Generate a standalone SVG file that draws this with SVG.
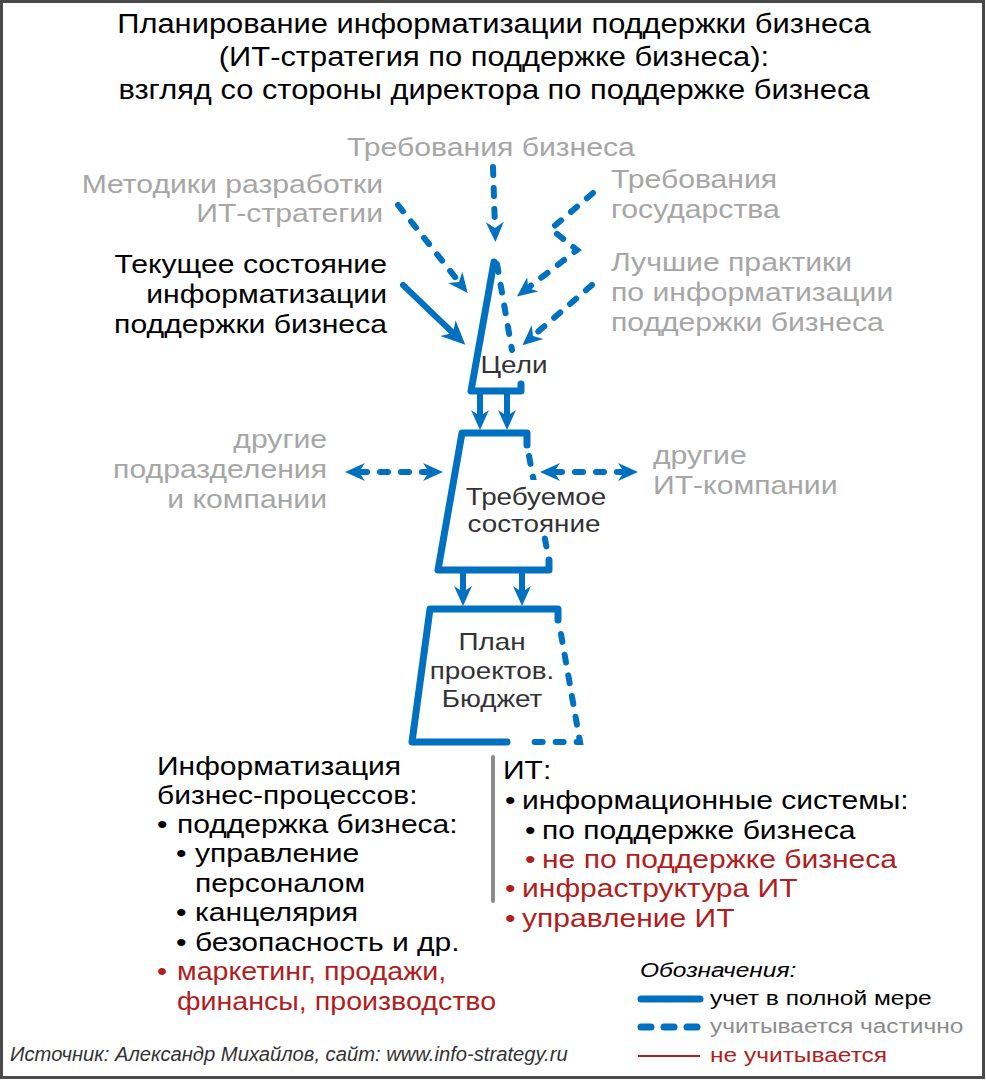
<svg xmlns="http://www.w3.org/2000/svg" width="986" height="1080" viewBox="0 0 986 1080">
<defs>
<style>
text{font-family:"Liberation Sans",Arial,sans-serif;}
.t{font-size:27px;fill:#000;text-anchor:middle;}
.g{font-size:26px;fill:#a6a6a6;}
.k{font-size:26px;fill:#000;}
.r{font-size:26px;fill:#b01e1e;}
.in{font-size:24px;fill:#333;text-anchor:middle;}
.e{text-anchor:end;}
.m{text-anchor:middle;}
.sol{fill:none;stroke:#0070c0;stroke-width:7;stroke-linecap:round;stroke-linejoin:round;}
.das{fill:none;stroke:#0070c0;stroke-width:6;stroke-linecap:round;stroke-dasharray:8 13;}
.arr{fill:none;stroke:#0070c0;stroke-width:6;}
.ad{stroke-dasharray:8 13;stroke-linecap:round;}
.lg{font-size:21px;}
</style>
<marker id="ah" viewBox="0 0 20 20" markerWidth="20" markerHeight="20" refX="6" refY="10" orient="auto-start-reverse" markerUnits="userSpaceOnUse">
<path d="M0,1 L20,10 L0,19 L6,10 z" fill="#0070c0"/>
</marker>
<marker id="ah2" viewBox="0 0 24 24" markerWidth="24" markerHeight="24" refX="7" refY="12" orient="auto" markerUnits="userSpaceOnUse">
<path d="M0,1 L24,12 L0,23 L7,12 z" fill="#0070c0"/>
</marker>
</defs>
<rect x="1.5" y="1.5" width="982" height="1076" fill="#fff" stroke="#4a4a4a" stroke-width="3"/>

<g id="title" transform="matrix(1.143,0,0,1,-70.64,0)">
<text class="t" x="494" y="33">Планирование информатизации поддержки бизнеса</text>
<text class="t" x="494" y="66">(ИТ-стратегия по поддержке бизнеса):</text>
<text class="t" x="494" y="99">взгляд со стороны директора по поддержке бизнеса</text>
</g>

<g id="inputs">
<text class="g m" x="491" y="156" transform="matrix(1.16,0,0,1,-78.56,0)">Требования бизнеса</text>
<g transform="matrix(1.16,0,0,1,-61.28,0)">
<text class="g e" x="383" y="193">Методики разработки</text>
<text class="g e" x="383" y="222">ИТ-стратегии</text>
</g>
<g transform="matrix(1.16,0,0,1,-97.76,0)">
<text class="g" x="611" y="188">Требования</text>
<text class="g" x="611" y="218">государства</text>
<text class="g" x="611" y="271">Лучшие практики</text>
<text class="g" x="611" y="301">по информатизации</text>
<text class="g" x="611" y="331">поддержки бизнеса</text>
</g>
<g transform="matrix(1.16,0,0,1,-61.92,0)">
<text class="k e" x="387" y="273">Текущее состояние</text>
<text class="k e" x="387" y="303">информатизации</text>
<text class="k e" x="387" y="333">поддержки бизнеса</text>
</g>
<g transform="matrix(1.16,0,0,1,-52.32,0)">
<text class="g e" x="327" y="448">другие</text>
<text class="g e" x="327" y="478">подразделения</text>
<text class="g e" x="327" y="508">и компании</text>
</g>
<g transform="matrix(1.16,0,0,1,-104.48,0)">
<text class="g" x="653" y="464">другие</text>
<text class="g" x="653" y="494">ИТ-компании</text>
</g>
</g>

<g id="node-goals">
<path class="sol" d="M494,262 L471,391 L521,391 L521,384"/>
<path class="das" d="M497,264 L512,350"/>
<text class="in" x="514" y="373" transform="matrix(1.16,0,0,1,-82.24,0)">Цели</text>
</g>

<g id="node-target">
<path class="sol" d="M527,445 L527,433 L462,433 L438,570 L549,570 L549,560"/>
<path class="das" d="M529,456 L548,555"/>
<rect x="463" y="480" width="146" height="53" fill="#fff"/>
<text class="in" x="536" y="505" transform="matrix(1.16,0,0,1,-85.76,0)">Требуемое</text>
<text class="in" x="534" y="532" transform="matrix(1.16,0,0,1,-85.44,0)">состояние</text>
</g>

<g id="node-plan">
<path class="sol" d="M558,620 L558,609 L430,609 L412,742 L507,742"/>
<path class="das" d="M561,634 L580,742 L522,742"/>
<g transform="matrix(1.16,0,0,1,-78.72,0)">
<text class="in" x="492" y="650">План</text>
<text class="in" x="492" y="679">проектов.</text>
<text class="in" x="492" y="707">Бюджет</text>
</g>
</g>

<g id="connectors">
<path class="arr ad" d="M493,167 L495,228" marker-end="url(#ah)"/>
<path class="arr ad" d="M398,205 L459,282" marker-end="url(#ah)"/>
<path class="arr" style="stroke-linecap:round" d="M403,285 L453,333" marker-end="url(#ah2)"/>
<path class="arr ad" d="M593,193 L551,229 L577,250 L528,288" marker-end="url(#ah)"/>
<path class="arr ad" d="M592,285 L533,336" marker-end="url(#ah)"/>
<path class="arr" d="M480,392 L480,416" marker-end="url(#ah)"/>
<path class="arr" d="M507,392 L507,416" marker-end="url(#ah)"/>
<path class="arr" d="M463,570 L463,592" marker-end="url(#ah)"/>
<path class="arr" d="M522,570 L522,592" marker-end="url(#ah)"/>
<path class="arr ad" d="M359,472 L429,472" marker-start="url(#ah)" marker-end="url(#ah)"/>
<path class="arr ad" d="M554,472 L624,472" marker-start="url(#ah)" marker-end="url(#ah)"/>
</g>

<g id="business-list">
<g transform="matrix(1.155,0,0,1,-24.34,0)">
<text class="k" x="157" y="775">Информатизация</text>
<text class="k" x="157" y="804">бизнес-процессов:</text>
<text class="k" x="157" y="833">•<tspan x="174.3">поддержка бизнеса:</tspan></text>
<text class="k" x="173.5" y="862">•<tspan x="189.9">управление</tspan></text>
<text class="k" x="189.9" y="892">персоналом</text>
<text class="k" x="173.5" y="921">•<tspan x="189.9">канцелярия</tspan></text>
<text class="k" x="173.5" y="951">•<tspan x="189.9">безопасность и др.</tspan></text>
</g>
<g transform="matrix(1.1,0,0,1,-15.7,0)">
<text class="r" x="157" y="980">•<tspan x="175.2">маркетинг, продажи,</tspan></text>
<text class="r" x="175.2" y="1010">финансы, производство</text>
</g>
</g>

<line id="separator" x1="493" y1="757" x2="493" y2="901" stroke="#8c8c8c" stroke-width="4" stroke-linecap="round"/>

<g id="it-list" transform="matrix(1.155,0,0,1,-77.97,0)">
<text class="k" x="503" y="779">ИТ:</text>
<text class="k" x="504.7" y="809">•<tspan x="519.5">информационные системы:</tspan></text>
<text class="k" x="522" y="839">•<tspan x="536.8">по поддержке бизнеса</tspan></text>
<text class="r" x="522" y="868">•<tspan x="536.8">не по поддержке бизнеса</tspan></text>
<text class="r" x="504.7" y="897">•<tspan x="519.5">инфраструктура ИТ</tspan></text>
<text class="r" x="504.7" y="927">•<tspan x="519.5">управление ИТ</tspan></text>
</g>

<g id="legend">
<text class="lg" x="640" y="977" font-style="italic" fill="#000" transform="matrix(1.167,0,0,1,-106.88,0)">Обозначения:</text>
<line x1="641" y1="999" x2="700" y2="999" stroke="#0070c0" stroke-width="7" stroke-linecap="round"/>
<line x1="641" y1="1027" x2="698" y2="1027" stroke="#0070c0" stroke-width="7" stroke-linecap="round" stroke-dasharray="10 13"/>
<line x1="638" y1="1056" x2="700" y2="1056" stroke="#b01e1e" stroke-width="2"/>
<g transform="matrix(1.167,0,0,1,-118.57,0)">
<text class="lg" x="710" y="1005" fill="#000">учет в полной мере</text>
<text class="lg" x="710" y="1033" fill="#8c8c8c">учитывается частично</text>
<text class="lg" x="710" y="1062" fill="#b01e1e">не учитывается</text>
</g>
</g>

<text id="source" x="10" y="1061" font-size="20" font-style="italic" fill="#333" transform="matrix(1.01,0,0,1,-0.1,0)">Источник: Александр Михайлов, сайт: www.info-strategy.ru</text>
</svg>
